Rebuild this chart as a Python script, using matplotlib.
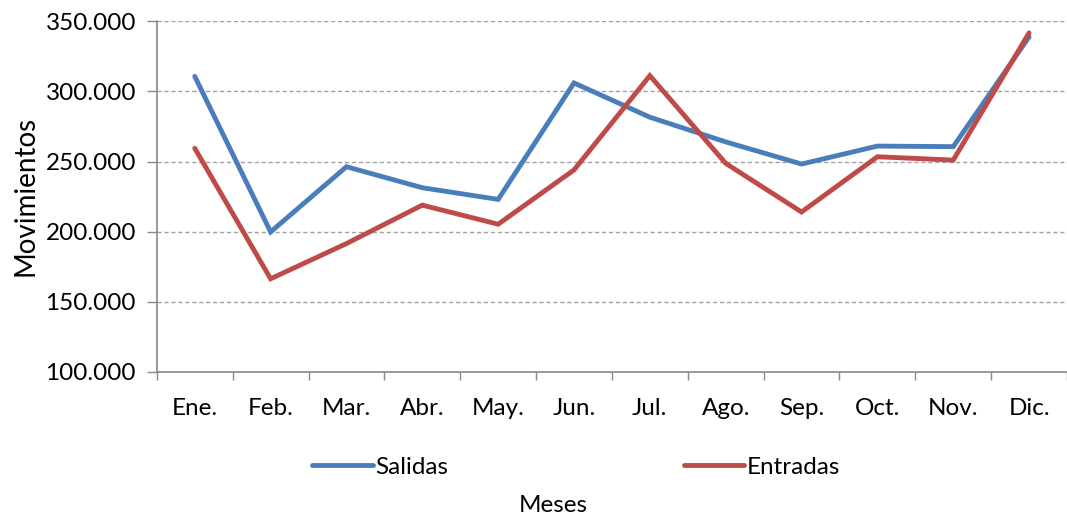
import matplotlib
matplotlib.use('Agg')
import matplotlib.pyplot as plt
from matplotlib.ticker import FuncFormatter, FixedLocator

# ---------------------------------------------------------------------------
# Data (movements per month)
# ---------------------------------------------------------------------------
meses = ['Ene.', 'Feb.', 'Mar.', 'Abr.', 'May.', 'Jun.',
         'Jul.', 'Ago.', 'Sep.', 'Oct.', 'Nov.', 'Dic.']
salidas = [310700, 199800, 246300, 231300, 223000, 306000,
           281600, 264000, 248200, 261000, 260600, 338800]
entradas = [259400, 166400, 191500, 218900, 205300, 244000,
            311200, 248700, 214000, 253400, 251000, 341700]

BLUE = '#4A7EBB'
RED = '#BE4B48'
GREY = '#888888'
FS = 17.5

plt.rcParams['font.family'] = ['Lato', 'DejaVu Sans']

fig = plt.figure(figsize=(10.67, 5.18), dpi=100)
ax = fig.add_axes([0.147, 0.282, 0.853, 0.677])

x = list(range(len(meses)))
ax.plot(x, salidas, color=BLUE, linewidth=3.5, label='Salidas',
        solid_joinstyle='miter', solid_capstyle='round')
ax.plot(x, entradas, color=RED, linewidth=3.5, label='Entradas',
        solid_joinstyle='miter', solid_capstyle='round')

ax.set_xlim(-0.5, len(meses) - 0.5)
ax.set_ylim(100000, 350000)
ax.set_yticks(range(100000, 350001, 50000))
ax.yaxis.set_major_formatter(
    FuncFormatter(lambda v, p: f'{int(v):,}'.replace(',', '.')))
ax.grid(axis='y', color='#A0A0A0', linestyle=(0, (3, 2)), linewidth=1)
ax.set_axisbelow(True)

ax.set_xticks(x)
ax.set_xticklabels(meses)
ax.xaxis.set_minor_locator(FixedLocator([i - 0.5 for i in range(len(meses) + 1)]))
ax.tick_params(axis='x', which='major', length=0, pad=19, labelsize=FS)
ax.tick_params(axis='x', which='minor', length=6, width=1, color=GREY)
ax.tick_params(axis='y', length=7, width=1, color=GREY, pad=8, labelsize=FS)

for side in ('top', 'right'):
    ax.spines[side].set_visible(False)
for side in ('left', 'bottom'):
    ax.spines[side].set_color(GREY)
    ax.spines[side].set_linewidth(1.2)

fig.text(0.024, 1 - 196 / 518, 'Movimientos', rotation=90,
         ha='center', va='center', fontsize=20)
fig.text(553 / 1067, 1 - 505 / 518, 'Meses', ha='center', va='center',
         fontsize=FS)

fig.legend(loc='center', bbox_to_anchor=(576 / 1067, 1 - 467 / 518), ncol=2,
           frameon=False, fontsize=FS, handlelength=2.5,
           handletextpad=0.1, columnspacing=9.7)

fig.savefig('out.png', dpi=100)
